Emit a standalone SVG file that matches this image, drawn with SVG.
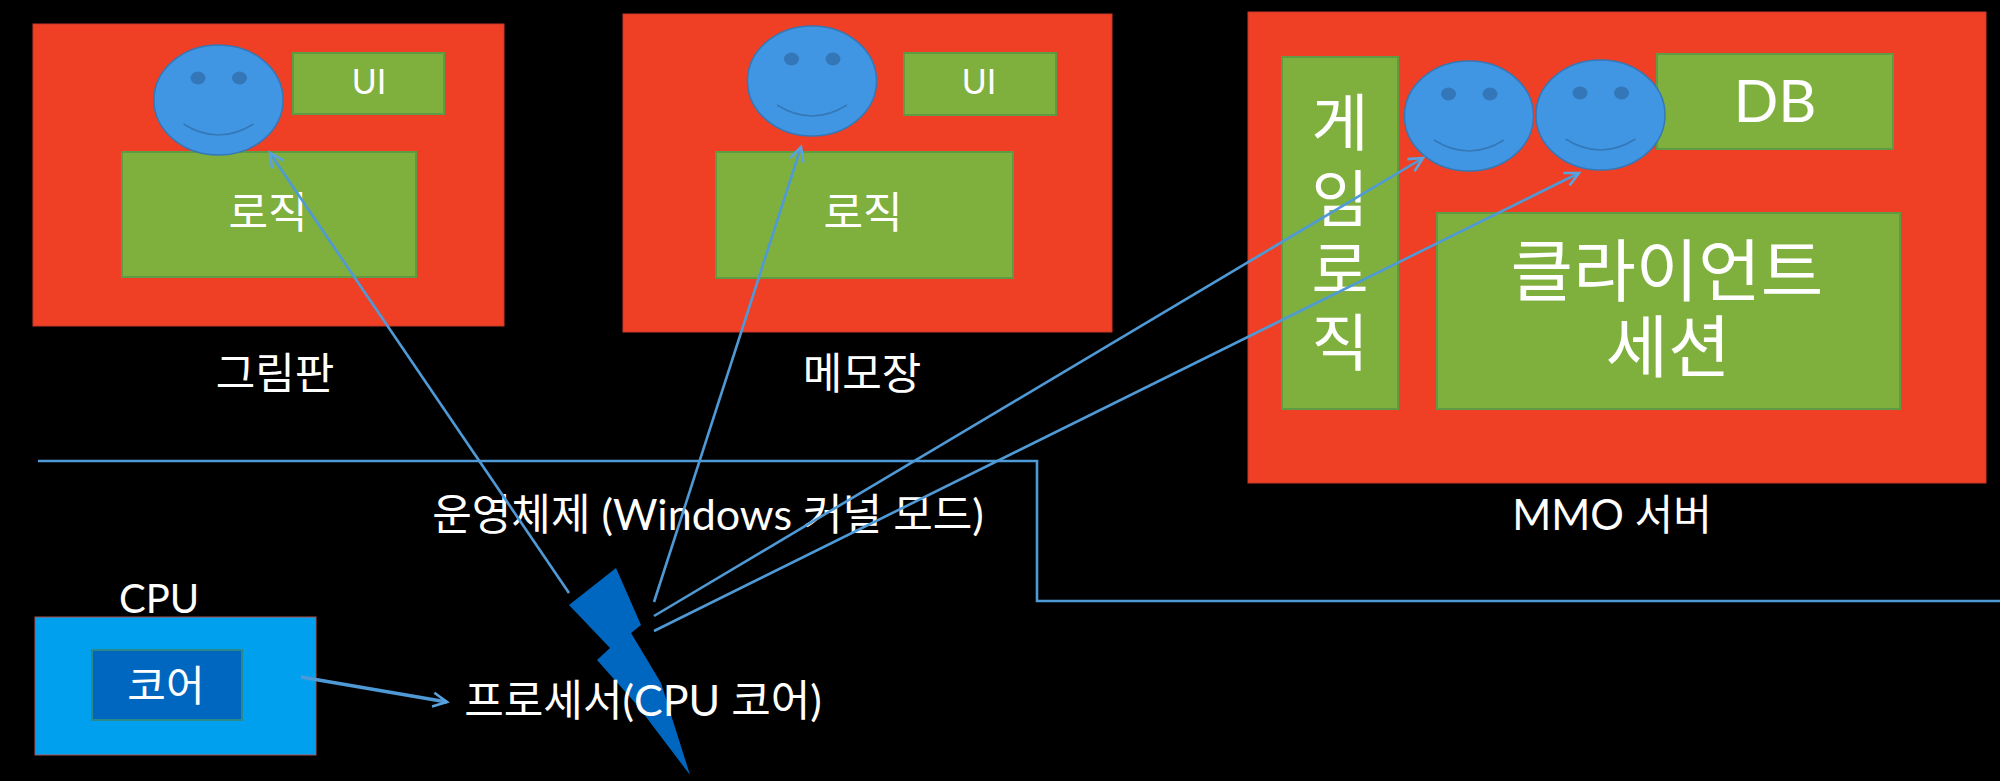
<svg xmlns="http://www.w3.org/2000/svg" width="2000" height="781" viewBox="0 0 2000 781">
<style>
.red{fill:#ef3f24;stroke:#c8382a;stroke-width:1}
.grn{fill:#7fb03d;stroke:#5f9a45;stroke-width:2}
.face{fill:#4196e3;stroke:#3478b8;stroke-width:1.5}
.eye{fill:#3477b8}
.smile{fill:none;stroke:#3478b8;stroke-width:1.5}
text{fill:#fff;font-family:"Lato","Noto Sans CJK KR",sans-serif;font-weight:400;text-anchor:middle}
.conn{fill:none;stroke:#4f9ad6;stroke-width:2.6}
.thick{stroke-width:3.4}
</style>
<defs>
<marker id="arr" markerUnits="userSpaceOnUse" markerWidth="20" markerHeight="20" refX="16" refY="9" orient="auto"><path d="M2 2L16 9L2 16" fill="none" stroke="#5ba3de" stroke-width="2.6"/></marker>
<g id="smiley"><ellipse class="face" cx="0" cy="0" rx="64.5" ry="55"/><ellipse class="eye" cx="-20.500" cy="-22" rx="7.500" ry="6.500"/><ellipse class="eye" cx="21" cy="-22" rx="7.500" ry="6.500"/><path class="smile" d="M-35 24Q0 46 35 24"/></g>
</defs>
<rect width="2000" height="781" fill="#000"/>
<g id="app-paint">
<rect class="red" x="33" y="24" width="471" height="302"/>
<rect class="grn" x="293" y="53" width="151" height="61"/>
<rect class="grn" x="122" y="152" width="294" height="125"/>
<use href="#smiley" x="218.500" y="100"/>
<text x="369" y="94" font-size="34">UI</text>
<text x="268" y="228" font-size="43">로직</text>
<text x="275" y="389" font-size="43">그림판</text>
</g>
<g id="app-notepad">
<rect class="red" x="623" y="14" width="489" height="318"/>
<rect class="grn" x="904" y="53" width="152" height="62"/>
<rect class="grn" x="716" y="152" width="297" height="126"/>
<use href="#smiley" x="812" y="81"/>
<text x="979" y="94" font-size="34">UI</text>
<text x="863" y="228" font-size="43">로직</text>
<text x="862" y="389" font-size="43">메모장</text>
</g>
<g id="app-mmo">
<rect class="red" x="1248" y="12" width="738" height="471"/>
<rect class="grn" x="1282" y="57" width="116" height="352"/>
<rect class="grn" x="1657" y="54" width="236" height="95"/>
<rect class="grn" x="1437" y="213" width="463" height="196"/>
<use href="#smiley" x="1469" y="116"/>
<use href="#smiley" x="1600.500" y="115"/>
<text x="1340" y="146" font-size="62">게</text>
<text x="1340" y="222" font-size="62">임</text>
<text x="1340" y="293" font-size="62">로</text>
<text x="1340" y="366" font-size="62">직</text>
<text x="1775" y="122" font-size="59">DB</text>
<text x="1667" y="296" font-size="68">클라이언트</text>
<text x="1668" y="372" font-size="68">세션</text>
<text x="1612" y="530" font-size="42">MMO 서버</text>
</g>
<g id="cpu">
<rect x="35" y="617" width="281" height="138" fill="#00a0ef" stroke="#b4504a" stroke-width="1"/>
<rect x="92" y="650" width="150" height="70" fill="#0067c0" stroke="#2a8a8a" stroke-width="2"/>
<text x="166" y="701" font-size="42">코어</text>
<text x="159" y="613" font-size="40">CPU</text>
</g>
<g id="bolt"><path d="M616 568L569 605L610 648L597 660L637 705L690 775L661 683L631 633L641 625Z" fill="#0067c0"/></g>
<g id="labels">
<text x="708" y="530" font-size="43">운영체제 (Windows 커널 모드)</text>
<text x="643" y="716" font-size="43">프로세서(CPU 코어)</text>
</g>
<g id="connectors">
<path class="conn" d="M38 461H1037V601H2000"/>
<path class="conn" d="M569 593L270 153" marker-end="url(#arr)"/>
<path class="conn" d="M654 602L801 147" marker-end="url(#arr)"/>
<path class="conn" d="M654 616L1423 158" marker-end="url(#arr)"/>
<path class="conn" d="M654 631L1579 173" marker-end="url(#arr)"/>
<path class="conn thick" d="M301 677L447 702" marker-end="url(#arr)"/>
</g>
</svg>
